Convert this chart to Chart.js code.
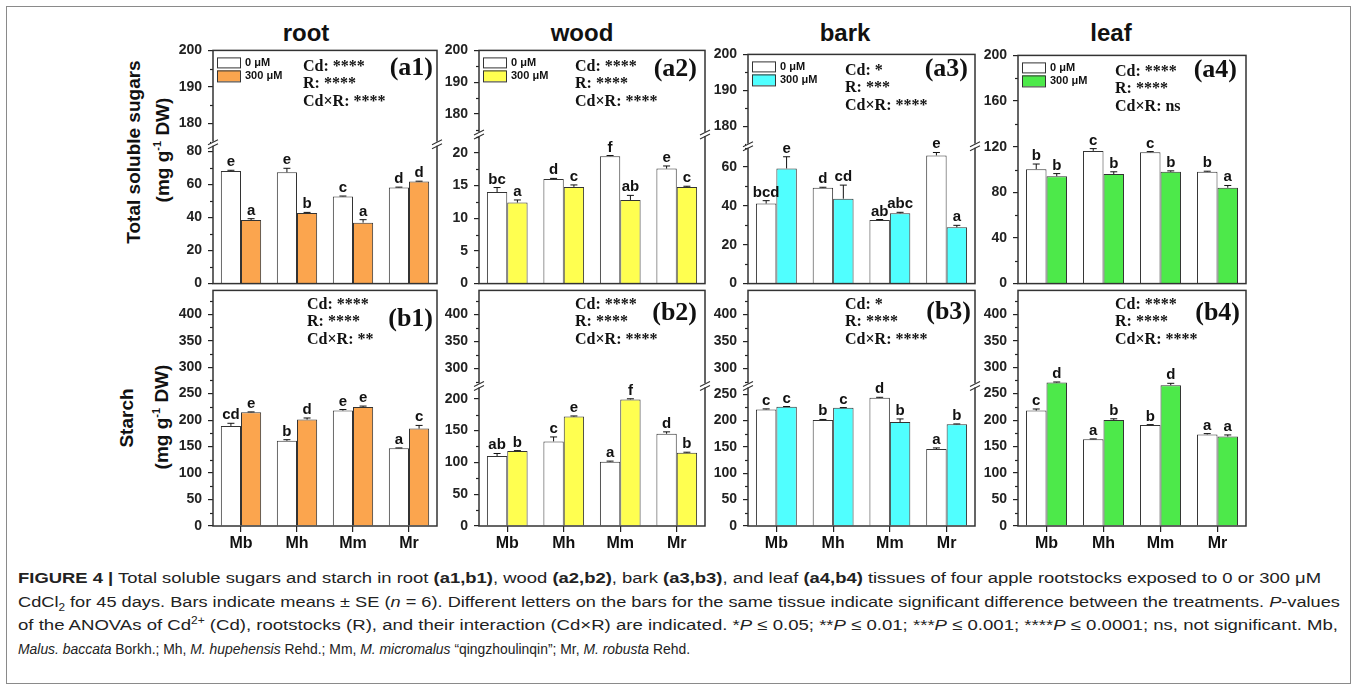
<!DOCTYPE html>
<html lang="en">
<head>
<meta charset="UTF-8">
<title>Figure 4 - soluble sugars and starch</title>
<script src="https://cdn.jsdelivr.net/npm/chart.js@4"></script>
<style>
  body { margin: 0; background: #fff; }
  #fig { position: relative; width: 1357px; height: 693px; overflow: hidden; font-family: "Liberation Sans", Arial, sans-serif; color: #111; }
  .frame { position: absolute; left: 6px; top: 6px; width: 1345px; height: 678px; border: 1.5px solid #8a8a8a; box-sizing: border-box; }
  .coltitle { position: absolute; top: 21px; font-weight: bold; font-size: 24px; line-height: 24px; transform: translateX(-50%); white-space: nowrap; }
  .ylab { position: absolute; font-weight: bold; font-size: 19px; line-height: 19px; white-space: nowrap; transform: translate(-50%, -50%) rotate(-90deg); }
  .ylab sup { font-size: 11px; }
  .cap-line { position: absolute; left: 18px; font-size: 15.5px; line-height: 20px; color: #222; width: max-content; white-space: nowrap; transform-origin: left center; }
  .cap-line sup, .cap-line sub { font-size: 10px; line-height: 0; }
</style>
</head>
<body>
<div id="fig">
  <div class="frame"></div>
  <div class="coltitle" style="left:306px">root</div>
  <div class="coltitle" style="left:582px">wood</div>
  <div class="coltitle" style="left:845px">bark</div>
  <div class="coltitle" style="left:1111px">leaf</div>
  <div class="ylab" style="left:133px;top:152px">Total soluble sugars</div>
  <div class="ylab" style="left:160px;top:150px">(mg g<sup>-1</sup> DW)</div>
  <div class="ylab" style="left:126px;top:418px">Starch</div>
  <div class="ylab" style="left:159px;top:417px">(mg g<sup>-1</sup> DW)</div>
  <span class="cap-line" style="top:568px"><b>FIGURE 4 |</b> Total soluble sugars and starch in root <b>(a1,b1)</b>, wood <b>(a2,b2)</b>, bark <b>(a3,b3)</b>, and leaf <b>(a4,b4)</b> tissues of four apple rootstocks exposed to 0 or 300 μM</span>
  <span class="cap-line" style="top:591.5px">CdCl<sub>2</sub> for 45 days. Bars indicate means ± SE (<i>n</i> = 6). Different letters on the bars for the same tissue indicate significant difference between the treatments. <i>P</i>-values</span>
  <span class="cap-line" style="top:615px">of the ANOVAs of Cd<sup>2+</sup> (Cd), rootstocks (R), and their interaction (Cd×R) are indicated. *<i>P</i> ≤ 0.05; **<i>P</i> ≤ 0.01; ***<i>P</i> ≤ 0.001; ****<i>P</i> ≤ 0.0001; ns, not significant. Mb,</span>
  <span class="cap-line" style="top:638.5px"><i>Malus. baccata</i> Borkh.; Mh, <i>M. hupehensis</i> Rehd.; Mm, <i>M. micromalus</i> “qingzhoulinqin”; Mr, <i>M. robusta</i> Rehd.</span>
</div>
<script>
  // categories / series
  var rootstocks = ['Mb', 'Mh', 'Mm', 'Mr']
  var seriesNames = ['0 μM', '300 μM']
  var cdColors = ['#FBA54E', '#FFFF50', '#50FFFF', '#4DE94A']   // root, wood, bark, leaf

  // total soluble sugars (mg g-1 DW), one row per tissue: root, wood, bark, leaf
  var sugar0 = [[68.2, 67.4, 52.8, 58.2], [14.0, 16.0, 19.5, 17.6], [41.2, 49.3, 32.7, 66.0], [100.3, 116.3, 115.2, 98.0]]
  var sugar300 = [[38.5, 42.8, 36.9, 61.8], [12.4, 14.8, 12.8, 14.8], [59.3, 43.7, 36.2, 29.0], [94.1, 96.0, 98.0, 84.0]]
  var sugarSe0 = [[0.4, 2.4, 0.2, 0.2], [0.7, 0.1, 0.1, 0.4], [1.5, 0.3, 0.3, 1.5], [4.5, 2.0, 0.5, 0.5]]
  var sugarSe300 = [[0.8, 0.3, 1.8, 0.2], [0.4, 0.3, 0.7, 0.1], [6.0, 7.0, 0.5, 1.0], [2.3, 2.0, 0.8, 2.0]]
  var sugarLetters0 = [['e', 'e', 'c', 'd'], ['bc', 'd', 'f', 'e'], ['bcd', 'd', 'ab', 'e'], ['b', 'c', 'c', 'b']]
  var sugarLetters300 = [['a', 'b', 'a', 'd'], ['a', 'c', 'ab', 'c'], ['e', 'cd', 'abc', 'a'], ['b', 'b', 'b', 'a']]
  var sugarStats = [['****', '****', '****'], ['****', '****', '****'], ['*', '***', '****'], ['****', '****', 'ns']]

  // starch (mg g-1 DW)
  var starch0 = [[189, 161, 218, 147], [110, 133, 101, 145], [221, 201, 243, 146], [218, 164, 191, 173]]
  var starch300 = [[215, 201, 225, 184], [118, 172, 199, 115], [226, 224, 197, 193], [271, 200, 266, 169]]
  var starchSe0 = [[5, 2, 2, 0.5], [4, 7, 1, 3], [1, 1, 1, 2], [3, 0.5, 0.5, 1.5]]
  var starchSe300 = [[0.5, 3, 1.5, 6], [0.5, 1, 1, 1], [0.5, 0.5, 6, 0.5], [1, 2.5, 3.5, 3]]
  var starchLetters0 = [['cd', 'b', 'e', 'a'], ['ab', 'c', 'a', 'd'], ['c', 'b', 'd', 'a'], ['c', 'a', 'b', 'a']]
  var starchLetters300 = [['e', 'd', 'e', 'c'], ['b', 'e', 'f', 'b'], ['c', 'c', 'b', 'b'], ['d', 'b', 'd', 'a']]
  var starchStats = [['****', '****', '**'], ['****', '****', '****'], ['*', '****', '****'], ['****', '****', '****']]

  // tick labels (lower segment / upper segment of the broken axes)
  var sugarTicksLow = [[0, 20, 40, 60, 80], [0, 5, 10, 15, 20], [0, 20, 40, 60], [0, 40, 80, 120, 160, 200]]
  var sugarTicksTop = [[180, 190, 200], [180, 190, 200], [180, 190, 200], null]
  var starchTicksLow = [[0, 50, 100, 150, 200, 250, 300, 350, 400], [0, 50, 100, 150, 200], [0, 50, 100, 150, 200, 250], [0, 50, 100, 150, 200, 250, 300, 350, 400]]
  var starchTicksTop = [null, [300, 350, 400], [300, 350, 400], null]

  // axis ranges
  var sugarLowMax = [84.7, 22.9, 71, 200]
  var sugarTopRange = [[174.5, 200], [173.7, 200], [174.6, 200], null]
  var starchLowMax = [445, 221, 266.5, 445]
  var starchTopRange = [null, [268, 445], [268, 445], null]

  // layout (pixels)
  var colX = [[213, 437], [479, 705], [748, 975], [1018, 1246]]
  var aTops = [48, 48, 52, 53]
  var rowABottom = 288, rowBTop = 288, rowBBottom = 526
  var breakY = [[144, 134, 146, null], [null, 384, 384, null]]
  var statsDx = [[90, 96, 97, 97], [94, 96, 97, 97]]
  var labelDx = [[4, 8, 7, 9], [4, 8, 4, 6]]
  var labelDy = [[18, 19, 15, 15], [29, 23, 22, 23]]
  var Y_W = 46, PAD_T = 12, PAD_R = 8

  function yScale(min, max, majors, weight) {
    var step = majors[1] - majors[0]
    var minors = []
    for (var v = majors[0] - step / 2; v <= max + 1e-9; v += step) {
      if (v >= min - 1e-9) minors.push(v)
    }
    var all = majors.filter(function (m) { return m >= min - 1e-9 && m <= max + 1e-9 }).concat(minors).sort(function (p, q) { return p - q })
    return {
      type: 'linear', position: 'left', min: min, max: max, stack: 'v', stackWeight: weight,
      afterBuildTicks: function (s) { s.ticks = all.map(function (t) { return { value: t } }) },
      afterFit: function (s) { s.width = Y_W },
      grid: {
        drawOnChartArea: false, drawTicks: true, tickLength: 5, lineWidth: 1.2,
        tickColor: function (c) { return c.tick && majors.indexOf(c.tick.value) >= 0 ? '#222' : 'rgba(0,0,0,0)' }
      },
      border: { display: false },
      ticks: {
        autoSkip: false, padding: 6, color: '#222', font: { family: 'Liberation Sans', weight: 'bold', size: 14 },
        callback: function (v) { return majors.indexOf(v) >= 0 ? String(v) : '' }
      },
      _majors: majors
    }
  }

  function decor(row, col, stats) {
    return {
      id: 'decor' + row + col,
      afterDatasetsDraw: function (chart) {
        var ctx = chart.ctx, a = chart.chartArea, yLow = chart.scales.yLow
        ctx.save()
        // error bars and letters
        chart.data.datasets.forEach(function (ds, di) {
          var meta = chart.getDatasetMeta(di)
          meta.data.forEach(function (bar, i) {
            var yTopPx = yLow.getPixelForValue(ds.data[i] + ds.se[i])
            ctx.strokeStyle = '#111'
            ctx.lineWidth = 1
            ctx.beginPath()
            ctx.moveTo(bar.x, bar.y)
            ctx.lineTo(bar.x, yTopPx)
            ctx.moveTo(bar.x - 3.5, yTopPx)
            ctx.lineTo(bar.x + 3.5, yTopPx)
            ctx.stroke()
            ctx.fillStyle = '#111'
            ctx.font = 'bold 15px "Liberation Sans"'
            ctx.textAlign = 'center'
            ctx.textBaseline = 'alphabetic'
            ctx.fillText(ds.letters[i], bar.x, yTopPx - 4)
          })
        })
        // minor ticks
        ;['yLow', 'yTop'].forEach(function (id) {
          var s = chart.scales[id]
          if (!s) return
          var majors = s.options._majors
          ctx.strokeStyle = '#222'
          ctx.lineWidth = 1.2
          s.ticks.forEach(function (t) {
            if (majors.indexOf(t.value) >= 0) return
            var y = Math.round(s.getPixelForValue(t.value)) + 0.5
            ctx.beginPath()
            ctx.moveTo(a.left - 3, y)
            ctx.lineTo(a.left, y)
            ctx.stroke()
          })
        })
        // frame
        ctx.strokeStyle = '#333'
        ctx.lineWidth = 1.5
        ctx.strokeRect(a.left, a.top, a.right - a.left, a.bottom - a.top)
        // axis break marks
        if (chart.scales.yTop) {
          var by = chart.scales.yTop.bottom
          ;[a.left, a.right].forEach(function (x) {
            ctx.fillStyle = '#fff'
            ctx.fillRect(x - 2, by - 2, 4, 4)
            ctx.strokeStyle = '#333'
            ctx.lineWidth = 1.1
            ctx.beginPath()
            ctx.moveTo(x - 5, by + 1); ctx.lineTo(x + 5, by - 4)
            ctx.moveTo(x - 5, by + 5); ctx.lineTo(x + 5, by)
            ctx.stroke()
          })
        }
        // legend (top row only)
        if (row === 0) {
          var lx = a.left + 4
          ctx.lineWidth = 1
          ctx.strokeStyle = '#333'
          ctx.fillStyle = '#fff'
          ctx.fillRect(lx, a.top + 7, 23, 10); ctx.strokeRect(lx + 0.5, a.top + 7.5, 23, 10)
          ctx.fillStyle = cdColors[col]
          ctx.fillRect(lx, a.top + 20, 23, 11); ctx.strokeRect(lx + 0.5, a.top + 20.5, 23, 11)
          ctx.fillStyle = '#111'
          ctx.font = 'bold 11px "Liberation Sans"'
          ctx.textAlign = 'left'
          ctx.textBaseline = 'middle'
          ctx.fillText(seriesNames[0], lx + 28, a.top + 12.5)
          ctx.fillText(seriesNames[1], lx + 28, a.top + 26)
        }
        // ANOVA stats
        ctx.fillStyle = '#111'
        ctx.font = 'bold 16px "Liberation Serif"'
        ctx.textAlign = 'left'
        ctx.textBaseline = 'middle'
        var sy = a.top + (row === 0 ? 16 : 14)
        var names = ['Cd: ', 'R: ', 'Cd×R: ']
        names.forEach(function (n, k) {
          ctx.fillText(n + stats[k], a.left + statsDx[row][col], sy + k * 17.5)
        })
        // panel label
        ctx.font = 'bold 26px "Liberation Serif"'
        ctx.textAlign = 'right'
        ctx.fillText('(' + (row === 0 ? 'a' : 'b') + (col + 1) + ')', a.right - labelDx[row][col], a.top + labelDy[row][col])
        ctx.restore()
      }
    }
  }

  function makePanel(row, col) {
    var left = colX[col][0], right = colX[col][1]
    var top = row === 0 ? aTops[col] : rowBTop
    var bottom = row === 0 ? rowABottom : rowBBottom
    var padB = row === 0 ? 10 : 0
    var xH = row === 0 ? 0 : 32
    var W = Y_W + (right - left) + PAD_R
    var H = PAD_T + (bottom - top) + padB + xH

    var v0 = row === 0 ? sugar0[col] : starch0[col]
    var v1 = row === 0 ? sugar300[col] : starch300[col]
    var e0 = row === 0 ? sugarSe0[col] : starchSe0[col]
    var e1 = row === 0 ? sugarSe300[col] : starchSe300[col]
    var l0 = row === 0 ? sugarLetters0[col] : starchLetters0[col]
    var l1 = row === 0 ? sugarLetters300[col] : starchLetters300[col]
    var ticksLow = row === 0 ? sugarTicksLow[col] : starchTicksLow[col]
    var ticksTop = row === 0 ? sugarTicksTop[col] : starchTicksTop[col]
    var lowMax = row === 0 ? sugarLowMax[col] : starchLowMax[col]
    var topRange = row === 0 ? sugarTopRange[col] : starchTopRange[col]
    var stats = row === 0 ? sugarStats[col] : starchStats[col]

    var scales = {
      x: {
        type: 'category', display: row === 1,
        afterFit: function (s) { s.height = xH },
        grid: { offset: false, drawOnChartArea: false, tickLength: 6, color: '#222', lineWidth: 1.2 },
        border: { display: false },
        ticks: { padding: 2, color: '#111', font: { family: 'Liberation Sans', weight: 'bold', size: 16 } }
      }
    }
    var bY = breakY[row][col]
    if (topRange) {
      scales.yLow = yScale(0, lowMax, ticksLow, bottom - bY)
      scales.yTop = yScale(topRange[0], topRange[1], ticksTop, bY - top)
    } else {
      scales.yLow = yScale(0, lowMax, ticksLow, 1)
    }

    var canvas = document.createElement('canvas')
    canvas.width = W
    canvas.height = H
    canvas.style.cssText = 'position:absolute;left:' + (left - Y_W) + 'px;top:' + (top - PAD_T) + 'px;width:' + W + 'px;height:' + H + 'px'
    document.getElementById('fig').appendChild(canvas)

    new Chart(canvas, {
      type: 'bar',
      data: {
        labels: rootstocks,
        datasets: [
          { label: seriesNames[0], data: v0, se: e0, letters: l0, yAxisID: 'yLow', backgroundColor: '#fff', borderColor: '#333', borderWidth: 1 },
          { label: seriesNames[1], data: v1, se: e1, letters: l1, yAxisID: 'yLow', backgroundColor: cdColors[col], borderColor: '#333', borderWidth: 1 }
        ]
      },
      options: {
        responsive: false,
        animation: false,
        devicePixelRatio: 1,
        barPercentage: 1,
        categoryPercentage: 0.72,
        layout: { padding: { top: PAD_T, right: PAD_R, bottom: padB, left: 0 } },
        plugins: { legend: { display: false }, tooltip: { enabled: false } },
        scales: scales
      },
      plugins: [decor(row, col, stats)]
    })
  }

  for (var r = 0; r < 2; r++) {
    for (var c = 0; c < 4; c++) makePanel(r, c)
  }

  // caption: fit every line to the width it has in the figure
  var capWidths = [1303, 1322, 1320, 672]
  document.querySelectorAll('.cap-line').forEach(function (el, i) {
    var w = el.getBoundingClientRect().width
    el.style.transform = 'scaleX(' + (capWidths[i] / w).toFixed(4) + ')'
  })
</script>
</body>
</html>
